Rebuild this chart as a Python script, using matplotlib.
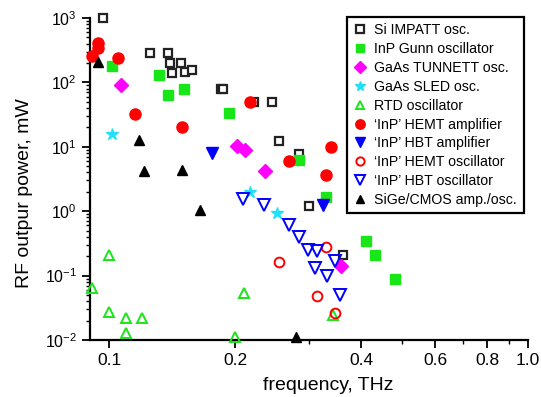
import matplotlib
matplotlib.use("Agg")
import matplotlib.pyplot as plt
import numpy as np
from matplotlib.ticker import FixedLocator, NullFormatter, LogLocator

plt.rcParams["font.family"] = ["Liberation Sans", "DejaVu Sans"]

# frequency (THz) / power (mW) per device family
impatt_f = [0.0968, 0.1253, 0.1383, 0.1398, 0.1486, 0.1414, 0.1519, 0.1579,
            0.185, 0.187, 0.222, 0.245, 0.255, 0.284, 0.300, 0.362]
impatt_p = [1000, 286, 286, 200, 200, 140, 145, 156,
            79, 79, 49.6, 49.6, 12.3, 7.73, 1.2, 0.209]

gunn_f = [0.1017, 0.1317, 0.1383, 0.151, 0.1935, 0.284, 0.330, 0.411, 0.430, 0.480]
gunn_p = [180, 130, 63.7, 79, 33.5, 6.24, 1.66, 0.344, 0.209, 0.0886]

tunnett_f = [0.1068, 0.202, 0.211, 0.236, 0.358]
tunnett_p = [91, 10.3, 8.9, 4.2, 0.141]

sled_f = [0.1017, 0.217, 0.251]
sled_p = [15.8, 1.99, 0.937]

rtd_f = [0.0911, 0.100, 0.100, 0.1098, 0.1098, 0.1199, 0.200, 0.210, 0.343]
rtd_p = [0.064, 0.209, 0.0272, 0.022, 0.0128, 0.022, 0.0111, 0.0537, 0.0244]

hemt_amp_f = [0.0941, 0.0941, 0.0911, 0.1051, 0.1154, 0.1494, 0.217, 0.269, 0.339, 0.330]
hemt_amp_p = [409, 342, 257, 239, 32.3, 20.3, 49.6, 6.02, 9.93, 3.65]

hbt_amp_f = [0.176, 0.3245]
hbt_amp_p = [8.0, 1.25]

hemt_osc_f = [0.255, 0.330, 0.314, 0.347]
hemt_osc_p = [0.163, 0.278, 0.0482, 0.0262]

hbt_osc_f = [0.209, 0.2345, 0.268, 0.284, 0.299, 0.314, 0.3105, 0.332, 0.347, 0.356]
hbt_osc_p = [1.55, 1.25, 0.611, 0.397, 0.25, 0.241, 0.131, 0.0986, 0.169, 0.05]

sige_f = [0.0941, 0.118, 0.1212, 0.1494, 0.165, 0.280]
sige_p = [207, 12.8, 4.2, 4.36, 1.04, 0.0111]

xticks = [0.1, 0.2, 0.4, 0.6, 0.8, 1.0]
xtick_labels = ["0.1", "0.2", "0.4", "0.6", "0.8", "1.0"]
xminor = [0.3, 0.5, 0.7, 0.9]

GREEN = "#19e619"
fig = plt.figure(figsize=(5.41, 3.97), dpi=100)
ax = fig.add_axes([0.1664, 0.1436, 0.8096, 0.8111])
ax.set_xscale("log"); ax.set_yscale("log")

kw = dict(ls="none", clip_on=False, zorder=3)
ax.plot(impatt_f, impatt_p, "s", ms=6, mfc="white", mec="#222222", mew=1.6,
        label="Si IMPATT osc.", **kw)
ax.plot(gunn_f, gunn_p, "s", ms=7, color=GREEN, label="InP Gunn oscillator", **kw)
ax.plot(tunnett_f, tunnett_p, "D", ms=7, color="#ff00ff", label="GaAs TUNNETT osc.", **kw)
ax.plot(sled_f, sled_p, "*", ms=9, color="#22e0f5", label="GaAs SLED osc.", **kw)
ax.plot(rtd_f, rtd_p, "^", ms=7, mfc="none", mec=GREEN, mew=1.4,
        label="RTD oscillator", **kw)
ax.plot(hemt_amp_f, hemt_amp_p, "o", ms=8, color="#ff0000",
        label="\u2018InP\u2019 HEMT amplifier", **kw)
ax.plot(hbt_amp_f, hbt_amp_p, "v", ms=8, color="#0000ff",
        label="\u2018InP\u2019 HBT amplifier", **kw)
ax.plot(hemt_osc_f, hemt_osc_p, "o", ms=7, mfc="none", mec="#ff0000", mew=1.4,
        label="\u2018InP\u2019 HEMT oscillator", **kw)
ax.plot(hbt_osc_f, hbt_osc_p, "v", ms=8, mfc="none", mec="#0000ff", mew=1.4,
        label="\u2018InP\u2019 HBT oscillator", **kw)
ax.plot(sige_f, sige_p, "^", ms=7, color="black", label="SiGe/CMOS amp./osc.", **kw)

ax.set_xlim(0.090, 1.0)
ax.set_ylim(1e-2, 1e3)

ax.xaxis.set_major_locator(FixedLocator(xticks))
ax.set_xticklabels(xtick_labels)
ax.xaxis.set_minor_locator(FixedLocator(xminor))
ax.xaxis.set_minor_formatter(NullFormatter())
ax.yaxis.set_major_locator(LogLocator(base=10, numticks=10))
ax.yaxis.set_minor_locator(LogLocator(base=10, subs=np.arange(2, 10), numticks=20))
ax.yaxis.set_minor_formatter(NullFormatter())

for s in ("top", "right"):
    ax.spines[s].set_visible(False)
for s in ("left", "bottom"):
    ax.spines[s].set_linewidth(1.6)
ax.tick_params(which="major", length=6, width=1.3, direction="out")
ax.tick_params(axis="x", which="major", labelsize=12.5)
ax.tick_params(axis="y", which="major", labelsize=11.5)
ax.tick_params(which="minor", length=3, width=1.0, direction="out")

ax.set_xlabel("frequency, THz", fontsize=14, x=0.545, labelpad=6)
ax.set_ylabel("RF outpur power, mW", fontsize=14, y=0.457, labelpad=8)

leg = ax.legend(loc="upper left", bbox_to_anchor=(0.641, 0.957),
                bbox_transform=fig.transFigure, borderaxespad=0,
                fontsize=10.2, handlelength=1.0, handletextpad=0.5,
                labelspacing=0.34, borderpad=0.45, fancybox=False,
                framealpha=1, edgecolor="black", markerscale=0.85)
leg.get_frame().set_linewidth(1.6)
leg.set_zorder(5)

fig.savefig("out.png", dpi=100)
